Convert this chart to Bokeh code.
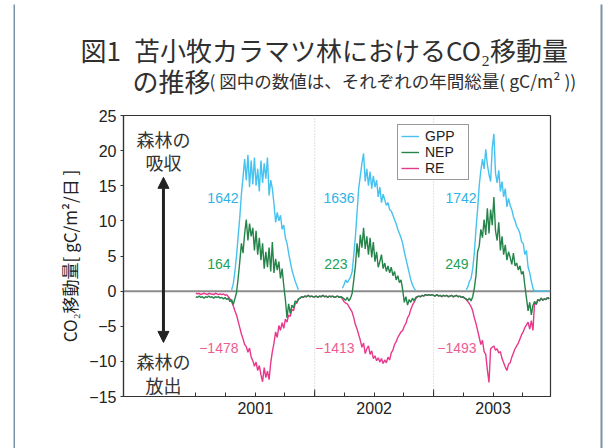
import numpy as np
from bokeh.plotting import figure
from bokeh.layouts import row, column
from bokeh.models import (ColumnDataSource, Span, Label, Legend, LegendItem, Plot,
                          FixedTicker, Arrow, NormalHead, Range1d)
from bokeh.embed import file_html
from bokeh.resources import INLINE

N = None
STEP = 5  # days between readings
years = [2001, 2002, 2003]

# ---- GPP (gC/m2/day), readings every 5 days from 1 Jan of each year ----
gpp_2001 = [N, N, N, N, N, N, N, N, N, N,
            N, N, N, N, N, N, N, N, N, N,
            N, N, 0.2, 1.0, 2.8, 5.0, 7.8, 10.5, 13.8, 16.2,
            18.8, 15.8, 19.4, 14.8, 18.6, 15.2, 19.0, 15.0, 17.4, 14.2,
            18.6, 15.4, 18.2, 16.0, 19.0, 13.6, 15.8, 14.6, 12.4, 9.8,
            11.2, 10.0, 10.8, 8.8, 9.4, 7.6, 6.8, 5.4, 4.2, 3.0,
            2.2, 1.4, 0.8, 0.2, N, N, N, N, N, N,
            N, N, N]
gpp_2002 = [N, N, N, N, N, N, N, N, N, N,
            N, N, N, N, N, N, N, 0.4, 0.9, 1.6,
            1.2, 1.6, 2.0, 2.8, 5.2, 7.8, 11.2, 14.6, 16.4, 18.2,
            19.6, 15.6, 17.4, 15.0, 17.0, 14.6, 16.4, 14.8, 15.8, 13.4,
            14.8, 12.6, 13.8, 13.0, 12.2, 12.6, 11.6, 11.4, 10.8, 10.2,
            9.6, 8.8, 8.2, 7.6, 6.8, 5.6, 4.6, 3.6, 2.6, 1.6,
            0.9, 0.4, 0.1, N, N, N, N, N, N, N,
            N, N, N]
gpp_2003 = [N, N, N, N, N, N, N, N, N, N,
            N, N, N, N, N, N, N, N, N, N,
            0.2, 0.6, 1.4, 1.8, 3.2, 5.4, 8.8, 11.6, 15.0, 17.2,
            18.8, 17.4, 20.2, 18.0, 16.6, 15.6, 20.4, 22.4, 16.8, 15.4,
            17.2, 14.2, 15.6, 13.4, 14.6, 12.0, 13.2, 12.2, 11.6, 10.6,
            10.0, 9.2, 8.8, 8.2, 7.0, 6.8, 5.2, 5.8, 3.4, 2.6,
            1.4, 0.4, 0, 0, 0, 0, 0, 0, 0, 0,
            0, 0]

# ---- NEP ----
nep_2001 = [-0.8, -0.9, -0.7, -0.9, -0.8, -1.0, -0.8, -0.9, -0.7, -0.9,
            -0.8, -1.0, -0.8, -0.9, -0.8, -1.0, -0.9, -1.1, -0.9, -1.2,
            -1.0, -1.5, -1.2, -1.9, -1.1, -0.2, 1.8, 4.2, 6.8, 5.4,
            8.2, 10.2, 7.2, 9.6, 7.8, 9.0, 5.8, 8.6, 5.2, 7.6,
            4.4, 6.8, 3.2, 5.6, 3.4, 6.2, 2.8, 7.0, 2.6, 4.6,
            3.0, 4.2, 1.8, 3.2, 0.8, -1.2, -3.8, -1.8, -3.2, -2.0,
            -2.4, -1.4, -1.6, -1.1, -1.0, -0.8, -0.9, -0.7, -0.8, -0.6,
            -0.8, -0.7, -0.8]
nep_2002 = [-0.8, -0.7, -0.9, -0.7, -0.8, -0.6, -0.8, -0.7, -0.9, -0.7,
            -0.8, -0.7, -0.9, -0.8, -0.7, -0.9, -0.8, -0.9, -1.1, -1.3,
            -0.9, -1.4, -1.0, -0.3, 1.6, 3.6, 6.8, 4.8, 8.0, 6.2,
            9.0, 6.0, 7.8, 5.2, 7.6, 4.8, 7.0, 4.2, 5.6, 3.4,
            4.2, 5.2, 3.2, 4.0, 2.8, 3.6, 2.6, 3.4, 2.2, 2.8,
            1.6, 2.2, 1.2, 1.6, 0.2, -1.6, -0.8, -2.0, -1.2, -1.6,
            -1.0, -1.4, -0.9, -0.8, -0.7, -0.8, -0.6, -0.7, -0.5, -0.6,
            -0.5, -0.6, -0.5]
nep_2003 = [-0.6, -0.7, -0.5, -0.7, -0.6, -0.8, -0.6, -0.7, -0.6, -0.8,
            -0.7, -0.6, -0.8, -0.7, -0.6, -0.8, -0.7, -0.9, -0.8, -1.0,
            -1.1, -1.3, -1.0, -1.4, -0.8, 0.4, 2.2, 5.6, 6.4, 8.8,
            7.6, 10.2, 8.0, 11.8, 8.2, 11.6, 9.4, 13.4, 8.6, 7.2,
            9.8, 5.8, 7.8, 5.2, 6.6, 4.4, 5.6, 4.8, 3.8, 5.4,
            3.6, 4.0, 3.0, 3.6, 2.4, 2.8, 0.8, -1.0, -2.8, -1.6,
            -3.4, -2.0, -1.5, -1.9, -1.2, -1.4, -1.0, -1.3, -1.1, -1.2,
            -0.9, -1.1]

# ---- RE (shown as negative) ----
re_2001 = [-0.3, -0.4, -0.3, -0.5, -0.4, -0.3, -0.4, -0.5, -0.3, -0.4,
           -0.4, -0.5, -0.3, -0.4, -0.5, -0.4, -0.5, -0.4, -0.6, -0.5,
           -0.8, -1.1, -1.5, -2.1, -2.8, -3.4, -4.3, -5.2, -6.1, -6.8,
           -7.6, -7.9, -8.7, -8.1, -9.4, -9.9, -10.7, -10.1, -11.3, -10.6,
           -11.9, -12.9, -10.9, -12.3, -11.4, -12.6, -10.2, -8.6, -7.4, -5.8,
           -6.6, -4.9, -5.6, -4.5, -5.3, -4.0, -4.4, -3.4, -3.6, -2.6,
           -2.8, -1.8, -1.7, -1.2, -1.0, -0.8, -0.9, -0.7, -0.8, -0.6,
           -0.8, -0.7, -0.8]
re_2002 = [-0.8, -0.7, -0.9, -0.7, -0.8, -0.6, -0.8, -0.7, -0.9, -0.7,
           -0.8, -0.7, -0.9, -0.8, -0.7, -0.9, -0.8, -1.1, -1.5, -1.7,
           -1.8, -2.2, -2.6, -3.0, -3.8, -4.8, -5.4, -6.2, -7.0, -8.0,
           -7.4, -8.9, -8.2, -7.8, -9.0, -8.5, -9.6, -9.2, -9.9, -9.5,
           -10.1, -9.6, -10.3, -9.8, -10.2, -9.4, -9.8, -8.8, -8.4, -7.6,
           -7.2, -6.6, -6.2, -5.8, -5.6, -5.0, -4.6, -3.8, -3.4, -2.6,
           -2.0, -1.6, -1.1, -0.8, -0.7, -0.8, -0.6, -0.7, -0.5, -0.6,
           -0.5, -0.6, -0.5]
re_2003 = [-0.6, -0.7, -0.5, -0.7, -0.6, -0.8, -0.6, -0.7, -0.6, -0.8,
           -0.7, -0.6, -0.8, -0.7, -0.6, -0.8, -0.7, -0.9, -0.8, -1.0,
           -1.2, -1.5, -1.8, -2.2, -2.8, -3.8, -4.6, -5.6, -6.6, -7.6,
           -7.0, -8.6, -9.0, -11.2, -13.0, -8.2, -8.0, -7.8, -8.4, -8.2,
           -8.8, -8.6, -9.6, -10.2, -10.8, -11.3, -10.4, -10.2, -9.4, -8.8,
           -8.2, -7.8, -7.4, -6.8, -6.2, -5.8, -5.2, -4.8, -4.4, -5.4,
           -4.2, -5.6, -1.5, -1.9, -1.2, -1.4, -1.0, -1.3, -1.1, -1.2,
           -0.9, -1.1]

# annual totals (gC/m2) written in the chart
gpp_totals = ["1642", "1636", "1742"]
nep_totals = ["164", "223", "249"]
re_totals = ["\u22121478", "\u22121413", "\u22121493"]

y_ticks = [-15, -10, -5, 0, 5, 10, 15, 20, 25]
year_labels = ["2001", "2002", "2003"]

title_line1 = "図1\u2002苫小牧カラマツ林におけるCO\u2082移動量"
title_line2a = "の推移"
title_line2b = "( 図中の数値は、それぞれの年間総量( gC/m\u00b2 ))"

C_GPP, C_NEP, C_RE = "#45c2f0", "#25844a", "#e8388c"
T_GPP, T_NEP, T_RE = "#2fb2e6", "#20a25a", "#ee5b94"
FRAME = "#7793aa"
TITLE_C = "#303030"
JP = "Noto Sans CJK JP"


def series(parts):
    xs, ys = [], []
    for yr, vals in zip(years, parts):
        for i, v in enumerate(vals):
            xs.append(yr + STEP * i / 365.0)
            ys.append(np.nan if v is None else v)
    return xs, ys


x, gpp = series([gpp_2001, gpp_2002, gpp_2003])
_, nep = series([nep_2001, nep_2002, nep_2003])
_, re = series([re_2001, re_2002, re_2003])
src = ColumnDataSource(dict(x=x, gpp=gpp, nep=nep, re=re))


def strip(w, h, left=0, right=0, top=0, bottom=0):
    """plain canvas whose inner area is painted in the frame colour"""
    return Plot(width=w, height=h, toolbar_location=None, output_backend="svg",
                x_range=Range1d(0, 1), y_range=Range1d(0, 1), frame_align=False,
                min_border_left=left, min_border_right=right,
                min_border_top=top, min_border_bottom=bottom,
                background_fill_color=FRAME, border_fill_color="white",
                outline_line_color=None)


# ---------------- title panel (page rows 6..108) ----------------
tp = Plot(width=585, height=102, toolbar_location=None, output_backend="svg",
          x_range=Range1d(15, 600), y_range=Range1d(108, 6), frame_align=False,
          min_border=0, background_fill_color="white", border_fill_color="white",
          outline_line_color=None)
tp.add_layout(Label(x=80, y=49, text=title_line1, text_font=JP, text_font_size="26px",
                    text_color=TITLE_C, text_baseline="alphabetic"))
tp.add_layout(Label(x=132, y=80, text=title_line2a, text_font=JP, text_font_size="26px",
                    text_color=TITLE_C, text_baseline="alphabetic"))
tp.add_layout(Label(x=209, y=80, text=title_line2b, text_font=JP, text_font_size="17.5px",
                    text_color=TITLE_C, text_baseline="alphabetic"))

# ---------------- chart (page rows 108..448) ----------------
p = figure(width=585, height=340, output_backend="svg", toolbar_location=None,
           x_range=Range1d(2000.392, 2003.983), y_range=Range1d(-15, 25),
           min_border_left=108, min_border_right=50, frame_align=False,
           min_border_top=7, min_border_bottom=52)
p.grid.visible = False
p.outline_line_color = "#333333"
p.outline_line_width = 1.2
p.background_fill_color = "white"
p.border_fill_color = "white"

p.xaxis.ticker = FixedTicker(
    ticks=[y + 0.5 for y in years],
    minor_ticks=[y + q for y in years for q in (0.0, 0.25, 0.75)])
p.xaxis.major_label_overrides = {y + 0.5: lab for y, lab in zip(years, year_labels)}
p.xaxis.major_tick_in = 4
p.xaxis.major_tick_out = 0
p.xaxis.minor_tick_in = 4
p.xaxis.minor_tick_out = 0
p.xaxis.major_label_standoff = 5

p.yaxis.ticker = FixedTicker(ticks=y_ticks, minor_ticks=[])
p.yaxis.major_label_overrides = {t: (str(t).replace("-", "\u2212")) for t in y_ticks}
p.yaxis.major_tick_out = 3
p.yaxis.major_tick_in = 0
p.yaxis.minor_tick_out = 0
p.yaxis.minor_tick_in = 0
p.yaxis.major_label_standoff = 4
p.yaxis.axis_label = "CO\u2082移動量[ gC/m\u00b2/日 ]"
p.yaxis.axis_label_text_font = JP
p.yaxis.axis_label_text_font_size = "17px"
p.yaxis.axis_label_text_font_style = "normal"
p.yaxis.axis_label_text_color = "#222222"
p.yaxis.axis_label_standoff = 4

for ax in (p.xaxis[0], p.yaxis[0]):
    ax.axis_line_color = "#333333"
    ax.axis_line_width = 1.2
    ax.major_tick_line_color = "#333333"
    ax.minor_tick_line_color = "#333333"
    ax.major_label_text_font = "Liberation Sans"
    ax.major_label_text_font_size = "16px"
    ax.major_label_text_color = "#222222"

p.add_layout(Span(location=0, dimension="width", line_color="#8c8c8c",
                  line_width=2, level="underlay"))
for yb in years[1:]:
    p.add_layout(Span(location=yb, dimension="height", line_color="#c4c4c4",
                      line_width=1, line_dash="1 2", level="underlay"))
p.segment(x0=years[1:], y0=[-15, -15], x1=years[1:], y1=[-14, -14],
          line_color="#333333", line_width=1)

r_re = p.line("x", "re", source=src, line_color=C_RE, line_width=1.4)
r_gpp = p.line("x", "gpp", source=src, line_color=C_GPP, line_width=1.4)
r_nep = p.line("x", "nep", source=src, line_color=C_NEP, line_width=1.4)

legend = Legend(items=[LegendItem(label="GPP", renderers=[r_gpp]),
                       LegendItem(label="NEP", renderers=[r_nep]),
                       LegendItem(label="RE", renderers=[r_re])],
                location=(274, 216))
legend.border_line_color = "#333333"
legend.border_line_width = 1.3
legend.background_fill_alpha = 1
legend.label_text_font = "Liberation Sans"
legend.label_text_font_size = "14px"
legend.label_text_color = "#222222"
legend.glyph_width = 18
legend.glyph_height = 14
legend.label_height = 14
legend.label_width = 40
legend.spacing = 0
legend.padding = 3
legend.margin = 0
legend.label_standoff = 6
p.add_layout(legend)

gx = [2001.359, 2002.335, 2003.361]
nx = [2001.292, 2002.276, 2003.294]
for i in range(3):
    for xx, yy, txt, col in ((gx[i], 13.3, gpp_totals[i], T_GPP),
                             (nx[i], 3.9, nep_totals[i], T_NEP),
                             (gx[i], -8.05, re_totals[i], T_RE)):
        p.add_layout(Label(x=xx, y=yy, text=txt, text_color=col,
                           text_font="Liberation Sans", text_font_size="14px",
                           text_align="right", text_baseline="middle"))

ax_x = 2000.728
for yy, txt in ((21.7, "森林の"), (18.4, "吸収"), (-9.9, "森林の"), (-13.3, "放出")):
    p.add_layout(Label(x=ax_x, y=yy, text=txt, text_color="#333333",
                       text_font=JP, text_font_size="18px",
                       text_align="center", text_baseline="middle"))
p.add_layout(Arrow(start=NormalHead(size=11, fill_color="#222222", line_color="#222222"),
                   end=NormalHead(size=11, fill_color="#222222", line_color="#222222"),
                   x_start=ax_x, y_start=-7.3, x_end=ax_x, y_end=16.2,
                   line_color="#222222", line_width=3))

# ---------------- page with its blue-grey frame ----------------
left_line = strip(15, 448, left=13, top=4)
right_line = strip(9, 448, right=7, top=4)
top_line = strip(585, 6, top=4)
root = row(left_line, column(top_line, tp, p), right_line)

open("out.html", "w").write(file_html(root, INLINE))
